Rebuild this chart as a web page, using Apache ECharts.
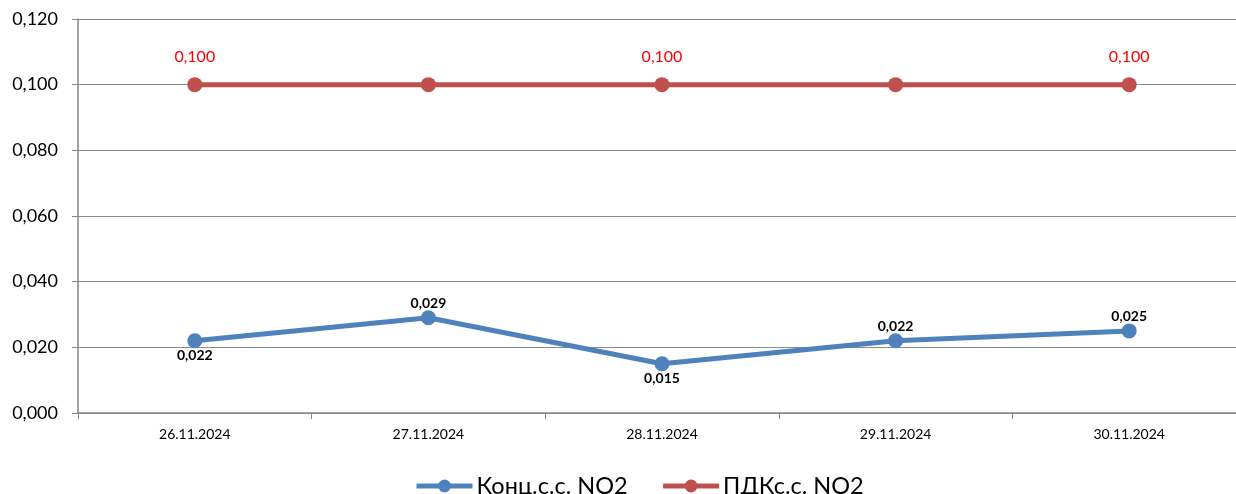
<!DOCTYPE html>
<html><head><meta charset="utf-8">
<script src="https://cdn.jsdelivr.net/npm/echarts@6/dist/echarts.min.js"></script>
<style>html,body{margin:0;padding:0;background:#fff;overflow:hidden}#c{width:1246px;height:494px}</style>
</head><body><div id="c"></div>
<script>
const categories = ['26.11.2024','27.11.2024','28.11.2024','29.11.2024','30.11.2024'];
const concValues = [0.022, 0.029, 0.015, 0.022, 0.025];
const pdkValues = [0.100, 0.100, 0.100, 0.100, 0.100];
const concLabelPos = ['bottom','top','bottom','top','top'];
const pdkLabelShown = [true, false, true, false, true];
const seriesNames = ['Конц.с.с. NO2', 'ПДКс.с. NO2'];

const fmt = v => v.toFixed(3).replace('.', ',');
const FONT = 'Lato, "Open Sans", sans-serif';

const chart = echarts.init(document.getElementById('c'));
chart.setOption({
  animation: false,
  grid: { left: 78, right: 0, top: 19, bottom: 81, containLabel: false },
  legend: {
    top: 469, left: 409, itemWidth: 56, itemHeight: 16, itemGap: 33,
    lineStyle: { width: 5 },
    textStyle: { fontFamily: FONT, fontSize: 23.5, color: '#000', padding: [0, 0, 0, -1] },
    data: seriesNames
  },
  xAxis: {
    type: 'category', data: categories, boundaryGap: true,
    axisLine: { lineStyle: { color: '#868686', width: 1.5 } },
    axisTick: { show: true, length: 6, lineStyle: { color: '#868686' } },
    axisLabel: { fontFamily: FONT, fontSize: 14, color: '#000', margin: 14 }
  },
  yAxis: {
    type: 'value', min: 0, max: 0.12, interval: 0.02,
    axisLine: { show: true, lineStyle: { color: '#868686', width: 1.5 } },
    axisTick: { show: true, length: 6, lineStyle: { color: '#868686' } },
    splitLine: { lineStyle: { color: '#8c8c8c', width: 1.2 } },
    axisLabel: { fontFamily: FONT, fontSize: 18, color: '#000', margin: 20, formatter: fmt }
  },
  series: [
    {
      name: seriesNames[0], type: 'line', data: concValues.map((v, i) => ({
        value: v,
        label: { position: concLabelPos[i] }
      })),
      symbol: 'circle', symbolSize: 15,
      lineStyle: { color: '#4F81BD', width: 5 },
      itemStyle: { color: '#4F81BD' },
      label: { show: true, fontFamily: FONT, fontSize: 14, fontWeight: 'bold', color: '#000', distance: 0, formatter: p => fmt(p.value) }
    },
    {
      name: seriesNames[1], type: 'line', data: pdkValues.map((v, i) => ({
        value: v,
        label: { show: pdkLabelShown[i] }
      })),
      symbol: 'circle', symbolSize: 15,
      lineStyle: { color: '#C0504D', width: 5 },
      itemStyle: { color: '#C0504D' },
      label: { show: true, position: 'top', distance: 12, fontFamily: FONT, fontSize: 16, color: '#FF0000', formatter: p => fmt(p.value) }
    }
  ]
});
</script></body></html>
